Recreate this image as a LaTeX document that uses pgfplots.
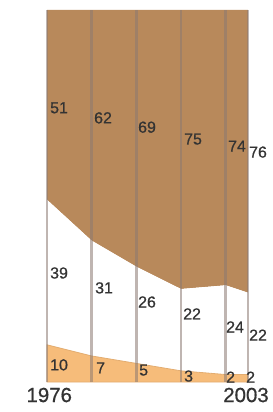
\documentclass[border=0pt]{standalone}
\usepackage{pgfplots}
\pgfplotsset{compat=1.18}
\usepackage{fontspec}
\setmainfont{Liberation Sans}
\newfontfamily\labfont{Liberation Sans}[FakeBold=0.7]
\definecolor{brownc}{HTML}{B8895B}
\definecolor{lorange}{HTML}{F6BC7A}
\definecolor{vline}{HTML}{8C7A72}
\tikzset{
 lab/.style={font=\labfont\fontsize{16}{16}\selectfont, text=black!80, inner sep=0pt, anchor=west},
 yr/.style={font=\labfont\fontsize{20.5}{20.5}\selectfont, text=black!80, inner sep=0pt, anchor=center},
}
\begin{document}
\begin{tikzpicture}
\useasboundingbox (0,0) rectangle (273bp,412bp);
\begin{axis}[
 at={(47bp,30bp)}, anchor=south west,
 scale only axis, width=201bp, height=372bp,
 xmin=1976, xmax=2003, ymin=0, ymax=100,
 stack plots=y,
 axis line style={draw=none},
 xtick={1976,1982,1988,1994,2000,2003},
 xticklabels={},
 ytick=\empty,
 major tick length=0pt,
 xmajorgrids,
 grid style={vline, opacity=0.55, line width=2.5bp},
 axis on top,
 clip=false,
]
\addplot[fill=lorange, draw=lorange!70!brownc, line width=0.8bp] coordinates {(1976,10)(1982,7)(1988,5)(1994,3)(2000,2)(2003,2)} \closedcycle;
\addplot[fill=white, draw=none] coordinates {(1976,39)(1982,31)(1988,26)(1994,22)(2000,24)(2003,22)} \closedcycle;
\addplot[fill=brownc, draw=none] coordinates {(1976,51)(1982,62)(1988,69)(1994,75)(2000,74)(2003,76)} \closedcycle;

\coordinate (l1) at (axis cs:1976.40,73.7);
\coordinate (l2) at (axis cs:1982.31,71.0);
\coordinate (l3) at (axis cs:1988.22,68.5);
\coordinate (l4) at (axis cs:1994.40,65.3);
\coordinate (l5) at (axis cs:2000.31,63.4);
\coordinate (l6) at (axis cs:2003.13,61.8);
\coordinate (m1) at (axis cs:1976.40,29.3);
\coordinate (m2) at (axis cs:1982.45,25.3);
\coordinate (m3) at (axis cs:1988.22,21.5);
\coordinate (m4) at (axis cs:1994.27,18.3);
\coordinate (m5) at (axis cs:2000.04,14.8);
\coordinate (m6) at (axis cs:2003.13,12.6);
\coordinate (b1) at (axis cs:1976.40,4.6);
\coordinate (b2) at (axis cs:1982.58,3.8);
\coordinate (b3) at (axis cs:1988.36,3.2);
\coordinate (b4) at (axis cs:1994.40,1.6);
\coordinate (b5) at (axis cs:2000.04,1.3);
\coordinate (b6) at (axis cs:2002.73,1.3);
\coordinate (y1) at (axis cs:1976.3,-3.5);
\coordinate (y2) at (axis cs:2002.73,-3.5);
\end{axis}
\node[lab] at (l1) {51};
\node[lab] at (l2) {62};
\node[lab] at (l3) {69};
\node[lab] at (l4) {75};
\node[lab] at (l5) {74};
\node[lab] at (l6) {76};
\node[lab] at (m1) {39};
\node[lab] at (m2) {31};
\node[lab] at (m3) {26};
\node[lab] at (m4) {22};
\node[lab] at (m5) {24};
\node[lab] at (m6) {22};
\node[lab] at (b1) {10};
\node[lab] at (b2) {7};
\node[lab] at (b3) {5};
\node[lab] at (b4) {3};
\node[lab] at (b5) {2};
\node[lab] at (b6) {2};
\node[yr] at (y1) {1976};
\node[yr] at (y2) {2003};
\end{tikzpicture}
\end{document}
